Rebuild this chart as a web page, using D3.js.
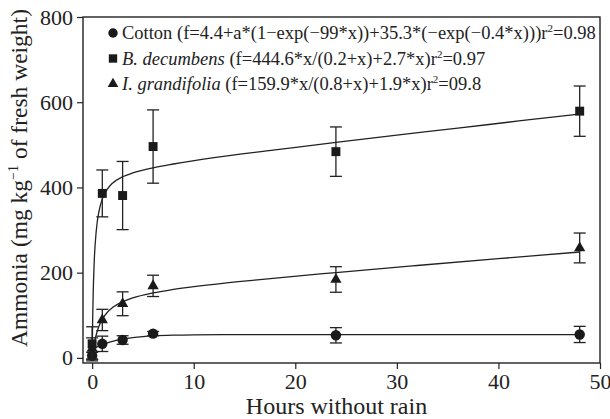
<!DOCTYPE html>
<html>
<head>
<meta charset="utf-8">
<script src="https://cdn.jsdelivr.net/npm/d3@7"></script>
<style>
  body { margin: 0; background: #fff; }
  svg text { font-family: "Liberation Serif", "DejaVu Serif", serif; fill: #222; }
</style>
</head>
<body>
<div id="chart"></div>
<script>
// measured points (mean +/- error bar), hours without rain
var hours = [0, 1, 3, 6, 24, 48];
var cotton = [5, 33, 42, 57, 53, 55];
var cottonErr = [8, 18, 10, 5, 18, 19];
var decumbens = [33, 386, 381, 496, 484, 579];
var decumbensErr = [40, 55, 80, 86, 58, 59];
var grandifolia = [22, 89, 127, 169, 184, 258];
var grandifoliaErr = [25, 25, 28, 25, 30, 35];

// fitted curves
var cottonFitX = [0, 0.02, 0.05, 0.1, 0.3, 0.6, 1, 1.5, 2, 3, 4, 5, 6, 8, 10, 15, 20, 30, 40, 48];
var cottonFitY = [4.4, 17.6, 20.0, 20.8, 23.4, 26.9, 31.0, 35.3, 38.8, 44.1, 47.6, 49.9, 51.5, 53.3, 54.1, 54.6, 54.7, 54.7, 54.7, 54.7];
var decumbensFitX = [0, 0.05, 0.1, 0.2, 0.4, 0.7, 1, 1.5, 2, 3, 4, 6, 8, 12, 18, 24, 30, 36, 42, 48];
var decumbensFitY = [0, 89, 148, 223, 297, 347, 373, 396, 410, 425, 434, 446, 455, 470, 488, 506, 523, 539, 556, 572];
var grandifoliaFitX = [0, 0.1, 0.25, 0.5, 0.75, 1, 1.5, 2, 3, 4, 6, 8, 12, 16, 24, 32, 40, 48];
var grandifoliaFitY = [0, 18, 38.5, 62.5, 78.8, 90.7, 107.1, 118, 131.9, 140.9, 152.5, 160.6, 172.7, 182.7, 200.3, 216.8, 232.8, 248.5];

var xTicks = [0, 10, 20, 30, 40, 50];
var yTicks = [0, 200, 400, 600, 800];

var width = 610, height = 419;
var mLeft = 83, mRight = 600, mTop = 17, mBottom = 363;
var serif = "'Liberation Serif', 'DejaVu Serif', serif";

var svg = d3.select("#chart").append("svg").attr("width", width).attr("height", height)
	.attr("font-family", serif);

var x = d3.scaleLinear().domain([-0.9, 50]).range([mLeft, mRight]);
var y = d3.scaleLinear().domain([-12, 800]).range([mBottom, mTop]);

// axes
var xAxis = svg.append("g").attr("transform", "translate(0," + mBottom + ")")
	.call(d3.axisBottom(x).tickValues(xTicks).tickSize(6).tickPadding(4));
var yAxis = svg.append("g").attr("transform", "translate(" + mLeft + ",0)")
	.call(d3.axisLeft(y).tickValues(yTicks).tickSize(6).tickPadding(4));
[xAxis, yAxis].forEach(function(a){
	a.attr("font-family", serif);
	a.select(".domain").remove();
	a.selectAll("line").attr("stroke", "#222").attr("stroke-width", 1.2);
	a.selectAll("text").style("font-size", "22px").attr("fill", "#222");
});

svg.append("rect").attr("x", mLeft).attr("y", mTop).attr("width", mRight - mLeft).attr("height", mBottom - mTop)
	.attr("fill", "none").attr("stroke", "#222").attr("stroke-width", 1.4);

// fitted lines
var line = d3.line().x(function(d){ return x(d[0]); }).y(function(d){ return y(d[1]); }).curve(d3.curveMonotoneX);
[[cottonFitX, cottonFitY], [decumbensFitX, decumbensFitY], [grandifoliaFitX, grandifoliaFitY]].forEach(function(f){
	svg.append("path").datum(d3.zip(f[0], f[1])).attr("d", line)
		.attr("fill", "none").attr("stroke", "#222").attr("stroke-width", 1.3);
});

// error bars and markers
var series = [
	{vals: cotton, err: cottonErr, sym: d3.symbolCircle, size: 85},
	{vals: decumbens, err: decumbensErr, sym: d3.symbolSquare, size: 80},
	{vals: grandifolia, err: grandifoliaErr, sym: d3.symbolTriangle, size: 55}
];
var cap = 6;
series.forEach(function(s){
	var pts = hours.map(function(h, i){ return {h: h, v: s.vals[i], e: s.err[i]}; });
	var g = svg.append("g").attr("stroke", "#222").attr("stroke-width", 1.3);
	g.selectAll(".v").data(pts).enter().append("line")
		.attr("x1", function(d){ return x(d.h); }).attr("x2", function(d){ return x(d.h); })
		.attr("y1", function(d){ return y(d.v - d.e); }).attr("y2", function(d){ return y(d.v + d.e); });
	g.selectAll(".t").data(pts).enter().append("line")
		.attr("x1", function(d){ return x(d.h) - cap; }).attr("x2", function(d){ return x(d.h) + cap; })
		.attr("y1", function(d){ return y(d.v + d.e); }).attr("y2", function(d){ return y(d.v + d.e); });
	g.selectAll(".b").data(pts).enter().append("line")
		.attr("x1", function(d){ return x(d.h) - cap; }).attr("x2", function(d){ return x(d.h) + cap; })
		.attr("y1", function(d){ return y(d.v - d.e); }).attr("y2", function(d){ return y(d.v - d.e); });
	svg.append("g").selectAll("path").data(pts).enter().append("path")
		.attr("d", d3.symbol().type(s.sym).size(s.size))
		.attr("transform", function(d){ return "translate(" + x(d.h) + "," + y(d.v) + ")"; })
		.attr("fill", "#1a1a1a");
});

// legend
var legend = [
	{sym: d3.symbolCircle, size: 70, name: "Cotton", italic: false, eq: " (f=4.4+a*(1\u2212exp(\u221299*x))+35.3*(\u2212exp(\u22120.4*x)))r", r2: "=0.98"},
	{sym: d3.symbolSquare, size: 70, name: "B. decumbens", italic: true, eq: " (f=444.6*x/(0.2+x)+2.7*x)r", r2: "=0.97"},
	{sym: d3.symbolTriangle, size: 50, name: "I. grandifolia", italic: true, eq: " (f=159.9*x/(0.8+x)+1.9*x)r", r2: "=09.8"}
];
legend.forEach(function(l, i){
	var cy = 33 + i * 25.5;
	svg.append("path").attr("d", d3.symbol().type(l.sym).size(l.size))
		.attr("transform", "translate(113," + cy + ")").attr("fill", "#1a1a1a");
	var t = svg.append("text").attr("x", 122).attr("y", cy + 6).attr("font-family", serif).style("font-size", "18.5px");
	t.append("tspan").text(l.name).style("font-style", l.italic ? "italic" : "normal");
	t.append("tspan").text(l.eq);
	t.append("tspan").text("2").attr("dy", -7).style("font-size", "11px");
	t.append("tspan").text(l.r2).attr("dy", 7);
});

// axis titles
svg.append("text").attr("x", (mLeft + mRight) / 2 - 5).attr("y", 414).attr("text-anchor", "middle")
	.attr("font-family", serif).style("font-size", "24px").text("Hours without rain");
var yt = svg.append("text").attr("transform", "translate(27,178) rotate(-90)").attr("text-anchor", "middle")
	.attr("font-family", serif).style("font-size", "23.5px");
yt.append("tspan").text("Ammonia (mg kg");
yt.append("tspan").text("\u22121").attr("dy", -9).style("font-size", "14px");
yt.append("tspan").text(" of fresh weight)").attr("dy", 9);
</script>
</body>
</html>
